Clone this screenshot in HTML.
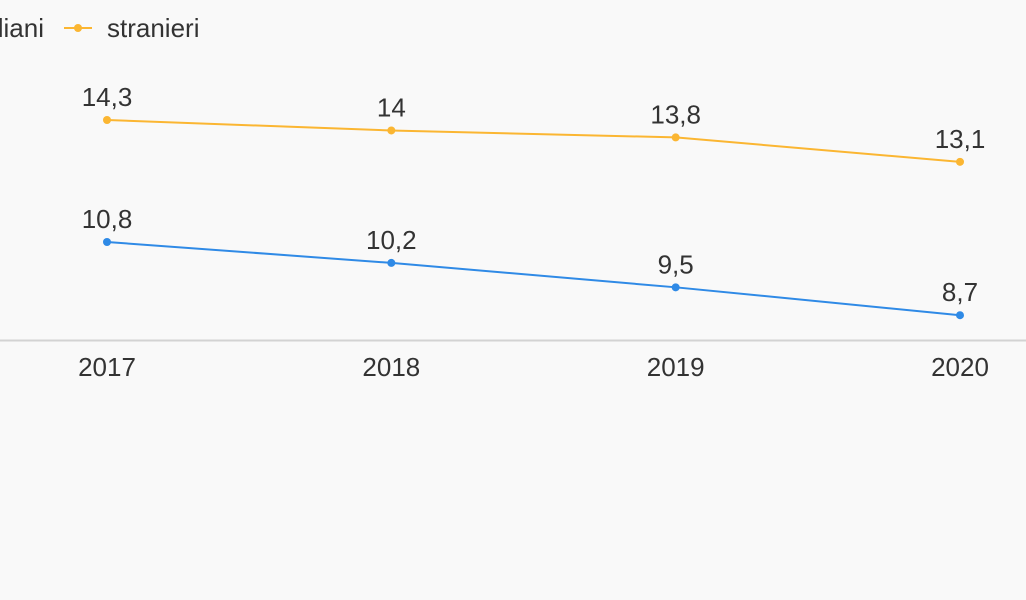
<!DOCTYPE html>
<html><head><meta charset="utf-8"><style>
html,body{margin:0;padding:0;background:#f9f9f9;}
svg{display:block;font-family:"Liberation Sans",sans-serif;}
</style></head><body>
<svg id="chart" width="1026" height="600" viewBox="0 0 1026 600">
<rect width="1026" height="600" fill="#f9f9f9"/>
<g>
<text x="44" y="37" text-anchor="end" font-size="26" fill="#333">italiani</text>
<line x1="64" y1="28" x2="92" y2="28" stroke="#fbb632" stroke-width="2"/>
<circle cx="78" cy="28" r="4" fill="#fbb632"/>
<text x="107" y="37" font-size="26" fill="#333">stranieri</text>
</g>
<line x1="0" y1="340.5" x2="1026" y2="340.5" stroke="#d3d3d3" stroke-width="2"/>
<g id="plot"></g>
</svg>
<script>
const years = ["2017","2018","2019","2020"];
const italiani = [10.8, 10.2, 9.5, 8.7];
const stranieri = [14.3, 14, 13.8, 13.1];
const labelsItaliani = ["10,8","10,2","9,5","8,7"];
const labelsStranieri = ["14,3","14","13,8","13,1"];

const NS = "http://www.w3.org/2000/svg";
const plot = document.getElementById("plot");
function xPos(i){ return 107 + i * (960 - 107) / (years.length - 1); }
function yPos(v){ return 120 + (14.3 - v) * 34.857; }
function mk(tag, attrs){ const e = document.createElementNS(NS, tag); for (const k in attrs) e.setAttribute(k, attrs[k]); return e; }

years.forEach((y, i) => {
  const t = mk("text", {x: xPos(i), y: 376, "text-anchor": "middle", "font-size": 26, fill: "#333"});
  
  
  t.textContent = y;
  plot.appendChild(t);
});

function series(vals, labels, color, name){
  const g = mk("g", {});
  
  
  const pts = vals.map((v, i) => xPos(i) + "," + yPos(v)).join(" ");
  const pl = mk("polyline", {points: pts, fill: "none", stroke: color, "stroke-width": 2});
  
  
  g.appendChild(pl);
  vals.forEach((v, i) => {
    const c = mk("circle", {cx: xPos(i), cy: yPos(v), r: 4, fill: color});
    
    
    g.appendChild(c);
    const t = mk("text", {x: xPos(i), y: yPos(v) - 14, "text-anchor": "middle", "font-size": 26, fill: "#333"});
    
    
    t.textContent = labels[i];
    g.appendChild(t);
  });
  plot.appendChild(g);
}
series(stranieri, labelsStranieri, "#fbb632", "stranieri");
series(italiani, labelsItaliani, "#2f8ae6", "italiani");
</script>
</body></html>
